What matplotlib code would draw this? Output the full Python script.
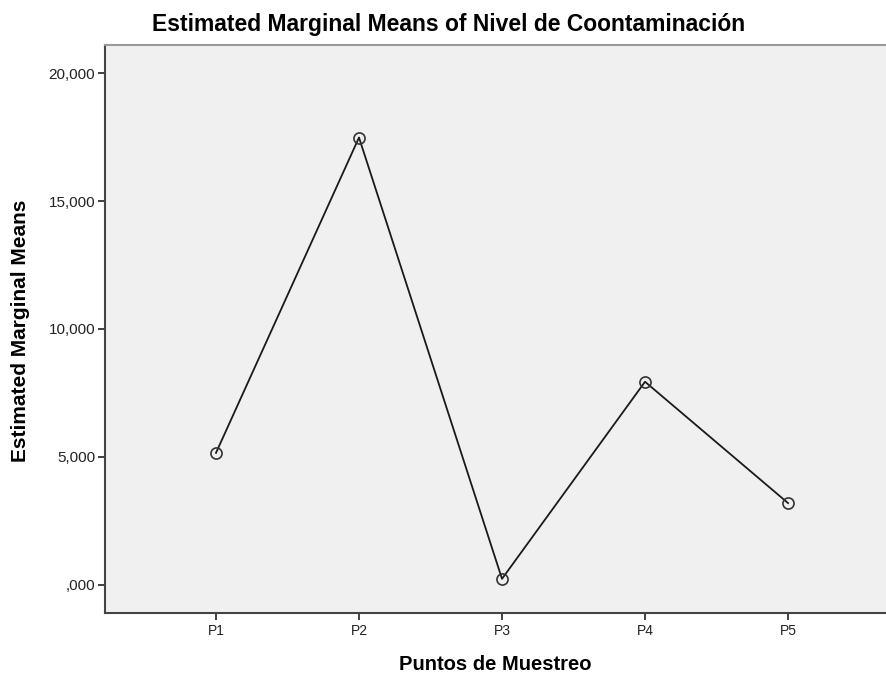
import matplotlib
matplotlib.use("Agg")
import matplotlib.pyplot as plt
from matplotlib.ticker import FuncFormatter

categories = ["P1", "P2", "P3", "P4", "P5"]
means = [5160, 17480, 240, 7940, 3200]
y_ticks = [0, 5000, 10000, 15000, 20000]

plt.rcParams['font.family'] = ['Liberation Sans', 'DejaVu Sans']

fig = plt.figure(figsize=(8.86, 6.75), dpi=100)
W, H = 886, 675
left, right, top, bottom = 105, 886, 45, 613
ax = fig.add_axes([left / W, 1 - bottom / H, (right - left) / W, (bottom - top) / H])
ax.set_facecolor("#F0F0F0")

x = list(range(1, len(categories) + 1))
ax.plot(x, means, color="#1a1a1a", lw=1.3, marker="o", markersize=8,
        markerfacecolor="none", markeredgecolor="#333333", markeredgewidth=1.2, zorder=3)

ax.set_xlim(1 - 0.776, 5 + 0.685)
ax.set_ylim(-1094, 21094)
ax.set_xticks(x)
ax.set_xticklabels(categories)
ax.set_yticks(y_ticks)

def fmt(v, pos):
    if v == 0:
        return ",000"
    return f"{int(round(v)):,}"
ax.yaxis.set_major_formatter(FuncFormatter(fmt))

ax.tick_params(axis="both", direction="out", length=5, width=1.3, color="#333333",
               labelcolor="#222222", pad=2)
ax.tick_params(axis="y", labelsize=11)
ax.tick_params(axis="x", labelsize=10, pad=3)

for s in ["left", "bottom"]:
    ax.spines[s].set_color("#444444")
    ax.spines[s].set_linewidth(1.5)
ax.spines["top"].set_color("#999999")
ax.spines["top"].set_linewidth(1.5)
ax.spines["right"].set_visible(False)

fig.text(449 / W, 1 - 24 / H, "Estimated Marginal Means of Nivel de Coontaminación",
         ha="center", va="center", fontsize=16.5, fontweight="bold")
fig.text(495 / W, 1 - 665 / H, "Puntos de Muestreo", ha="center", va="center",
         fontsize=14.5, fontweight="bold")
fig.text(21 / W, 1 - 331 / H, "Estimated Marginal Means", ha="center", va="center",
         rotation=90, fontsize=15, fontweight="bold")

fig.savefig("out.png", dpi=100, facecolor="white")
